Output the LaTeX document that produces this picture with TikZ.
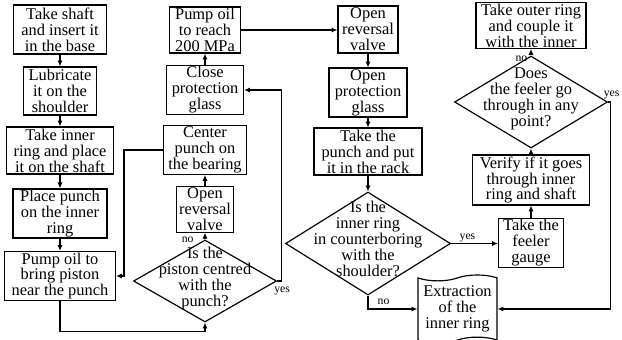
\documentclass[tikz,border=0pt]{standalone}
\usepackage{fontspec}
\setmainfont{Liberation Serif}
\usetikzlibrary{shapes.geometric,shapes.symbols,arrows.meta}

\newcommand{\steptext}{\fontsize{14}{13.6}\selectfont}
\newcommand{\answertext}{\fontsize{10}{12}\selectfont}

\tikzset{
  stepbox/.style 2 args={draw, line width=1pt, align=center, inner sep=1pt,
    minimum width=#1*0.03cm, minimum height=#2*0.03cm, font=\steptext},
  decision/.style 2 args={draw, diamond, line width=1pt, inner sep=0pt,
    minimum width=#1*0.03cm, minimum height=#2*0.03cm},
  dtext/.style={align=center, font=\steptext, inner sep=0pt},
  answer/.style={font=\answertext, inner sep=1pt},
  flowline/.style={draw, line width=1pt, -{Latex[length=5pt, width=4.5pt]}},
}

\begin{document}
\begin{tikzpicture}[x=0.03cm, y=-0.03cm]
    \useasboundingbox (0,0) rectangle (622,340);

    % first column
    \node[stepbox={93}{49}] (a1) at (60,29.5) {Take shaft\\and insert it\\in the base};
    \node[stepbox={73}{48}] (a2) at (60,91) {Lubricate\\it on the\\shoulder};
    \node[stepbox={107}{47}] (a3) at (60,150.5) {Take inner\\ring and place\\it on the shaft};
    \node[stepbox={94}{49}] (a4) at (60,213.5) {Place punch\\on the inner\\ring};
    \node[stepbox={111}{48}] (a5) at (60,276) {Pump oil to\\bring piston\\near the punch};

    % second column
    \node[stepbox={71}{46}] (b1) at (205,30) {Pump oil\\to reach\\200 MPa};
    \node[stepbox={77}{46}] (b2) at (205,90) {Close\\protection\\glass};
    \node[stepbox={83}{46}] (b3) at (205,150) {Center\\punch on\\the bearing};
    \node[stepbox={57}{45}] (b4) at (205,209.5) {Open\\reversal\\valve};
    \node[decision={143}{82}, label={[dtext, yshift=0.07cm]center:Is the\\piston centred\\with the\\punch?}] (d1) at (205,281) {};

    % third column
    \node[stepbox={60}{47}] (c1) at (368,29.5) {Open\\reversal\\valve};
    \node[stepbox={78}{49}] (c2) at (368,92.5) {Open\\protection\\glass};
    \node[stepbox={108}{47}] (c3) at (368,151.5) {Take the\\punch and put\\it in the rack};
    \node[decision={165}{103}, label={[dtext, yshift=0.13cm]center:Is the\\inner ring\\in counterboring\\with the\\shoulder?}] (d2) at (368,243.5) {};
    \node[draw, tape, line width=1pt, tape bend top=in and out, tape bend bottom=in and out,
      minimum width=79*0.03cm, minimum height=68*0.03cm, align=center, inner sep=1pt,
      font=\steptext] (ext) at (457.5,309) {Extraction\\of the\\inner ring};

    % fourth column
    \node[stepbox={110}{45}] (f1) at (531,25.5) {Take outer ring\\and couple it\\with the inner};
    \node[decision={153}{92}, label={[dtext, yshift=0.1cm]center:Does\\the feeler go\\through in any\\point?}] (d3) at (531,102) {};
    \node[stepbox={117}{50}] (f2) at (531,180) {Verify if it goes\\through inner\\ring and shaft};
    \node[stepbox={65}{48}] (f3) at (531,243) {Take the\\feeler\\gauge};

    % connectors
    \draw[flowline] (a1.south) -- (a2.north);
    \draw[flowline] (a2.south) -- (a3.north);
    \draw[flowline] (a3.south) -- (a4.north);
    \draw[flowline] (a4.south) -- (a5.north);
    \draw[flowline] (a5.south) -- ++(0,30) -| (d1.south);
    \draw[flowline] (d1.north) -- (b4.south);
    \draw[flowline] (b4.north) -- (b3.south);
    \draw[flowline] (b3.west) -- ++(-39,0) |- (a5.east);
    \draw[flowline] (d1.east) -- ++(4,0) |- (b2.east);
    \draw[flowline] (b2.north) -- (b1.south);
    \draw[flowline] (b1.east) -- (b1.east -| c1.west);
    \draw[flowline] (c1.south) -- (c2.north);
    \draw[flowline] (c2.south) -- (c3.north);
    \draw[flowline] (c3.south) -- (d2.north);
    \draw[flowline] (d2.south) |- (ext.west);
    \draw[flowline] (d2.east) -- node[answer, above, pos=0.35] (yes2) {yes} (d2.east -| f3.west);
    \draw[flowline] (f3.north) -- (f2.south);
    \draw[flowline] (f2.north) -- (d3.south);
    \draw[flowline] (d3.north) -- (f1.south);
    \draw[flowline] (d3.east) -- ++(2,0) |- (ext.east);

    % answers
    \node[answer, anchor=east] (no1) at ([xshift=-0.3cm]d1.north) {no};
    \node[answer, anchor=north] (yes1) at ([xshift=0.15cm, yshift=-0.15cm]d1.east) {yes};
    \node[answer, anchor=west] (no2) at ([xshift=0.25cm, yshift=-0.2cm]d2.south) {no};
    \node[answer, anchor=east] (no3) at ([xshift=-2pt, yshift=-3pt]d3.north) {no};
    \node[answer, anchor=south] (yes3) at ([xshift=3pt, yshift=1pt]d3.east) {yes};
\end{tikzpicture}
\end{document}
